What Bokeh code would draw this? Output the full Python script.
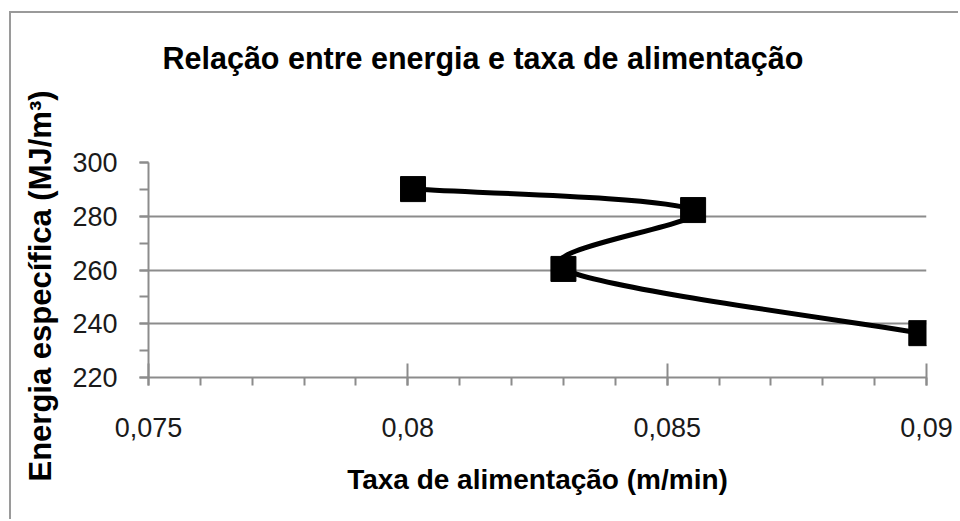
import numpy as np
from bokeh.plotting import figure
from bokeh.models import Range1d, FixedTicker, CustomJSTickFormatter, Title
from bokeh.embed import file_html
from bokeh.resources import INLINE

# Measured series: feed rate (m/min) vs specific energy (MJ/m³)
feed_rate = [0.0801, 0.0855, 0.0830, 0.0899]
energy = [290.1, 282.3, 260.4, 236.5]

x_ticks = [0.075, 0.08, 0.085, 0.09]
y_ticks = [220, 240, 260, 280, 300]
x_minor = [round(0.075 + 0.001 * i, 3) for i in range(16)]
y_minor = list(range(220, 301, 10))

title_text = "Relação entre energia e taxa de alimentação"
x_title = "Taxa de alimentação (m/min)"
y_title = "Energia específica (MJ/m³)"

X0, X1 = 0.075, 0.09
Y0, Y1 = 220, 300

# layout (pixels)
W, H = 949, 508
ML, MR, MT, MB = 137, 34, 149, 144
FW, FH = W - ML - MR, H - MT - MB

GRID = "#8c8c8c"
FONT = "Liberation Sans"

p = figure(
    width=W, height=H, title=None,
    x_range=Range1d(X0, X1), y_range=Range1d(Y0, Y1),
    output_backend="svg", toolbar_location=None,
    min_border_left=ML, min_border_right=MR,
    min_border_top=MT, min_border_bottom=MB,
    background_fill_color="white", border_fill_color="white",
    styles={
        "margin-left": "9px", "margin-top": "11px",
        "border-left": "2px solid #9a9a9a", "border-top": "2px solid #9a9a9a",
    },
)
p.outline_line_color = None

# blank band between the frame and the chart title
p.add_layout(Title(text=" ", text_font=FONT, text_font_size="10px", standoff=70), "above")
# chart title
p.add_layout(Title(
    text=title_text, align="left", offset=14, standoff=10,
    text_font=FONT, text_font_size="30.5px", text_font_style="bold",
    text_color="black",
), "above")

# axes
p.xaxis.ticker = FixedTicker(ticks=x_ticks, minor_ticks=x_minor)
p.yaxis.ticker = FixedTicker(ticks=y_ticks, minor_ticks=y_minor)
p.xaxis.formatter = CustomJSTickFormatter(code="return tick.toString().replace('.', ',')")

for ax in (p.xaxis, p.yaxis):
    ax.axis_line_color = GRID
    ax.axis_line_width = 2
    ax.major_tick_line_color = GRID
    ax.major_tick_line_width = 2
    ax.minor_tick_line_color = GRID
    ax.minor_tick_line_width = 2
    ax.major_label_text_font = FONT
    ax.major_label_text_font_size = "27px"
    ax.major_label_text_color = "#1a1a1a"

p.xaxis.major_tick_in = 14
p.xaxis.major_tick_out = 8
p.xaxis.minor_tick_in = 0
p.xaxis.minor_tick_out = 8
p.xaxis.major_label_standoff = 32
p.xaxis.axis_label = x_title
p.xaxis.axis_label_text_font = FONT
p.xaxis.axis_label_text_font_size = "28px"
p.xaxis.axis_label_text_font_style = "bold"
p.xaxis.axis_label_text_color = "black"
p.xaxis.axis_label_standoff = 24

p.yaxis.major_tick_in = 0
p.yaxis.major_tick_out = 9
p.yaxis.minor_tick_in = 0
p.yaxis.minor_tick_out = 9
p.yaxis.major_label_standoff = 22

# vertical axis title, positioned along the left edge
p.add_layout(Title(
    text=y_title, align="left", vertical_align="top", offset=-104, standoff=20,
    text_font=FONT, text_font_size="31px", text_font_style="bold",
    text_color="black",
), "left")

p.xgrid.visible = False
p.ygrid.grid_line_color = GRID
p.ygrid.grid_line_width = 2

# smoothed line: Catmull-Rom segments as cubic Béziers, built in pixel space
kx = FW / (X1 - X0)
ky = FH / (Y1 - Y0)
pts = np.column_stack([(np.array(feed_rate) - X0) * kx, (np.array(energy) - Y0) * ky])
ext = np.vstack([pts[0], pts, pts[-1]])
t = 1.0 / 6.0
c1 = ext[1:-2] + (ext[2:-1] - ext[:-3]) * t
c2 = ext[2:-1] - (ext[3:] - ext[1:-2]) * t
start = ext[1:-2]
end = ext[2:-1]


def to_x(a):
    return a / kx + X0


def to_y(a):
    return a / ky + Y0


p.bezier(
    x0=to_x(start[:, 0]), y0=to_y(start[:, 1]),
    x1=to_x(end[:, 0]), y1=to_y(end[:, 1]),
    cx0=to_x(c1[:, 0]), cy0=to_y(c1[:, 1]),
    cx1=to_x(c2[:, 0]), cy1=to_y(c2[:, 1]),
    line_color="black", line_width=5, line_cap="round",
)
p.scatter(feed_rate, energy, marker="square", size=25, color="black")

open("out.html", "w").write(file_html(p, INLINE))
